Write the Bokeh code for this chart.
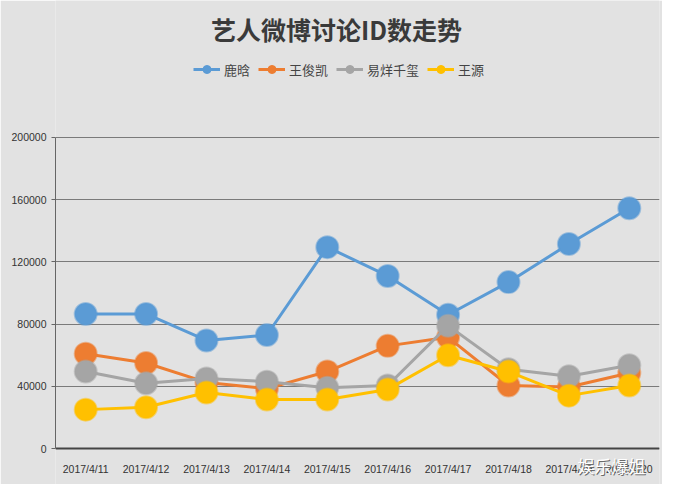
from bokeh.plotting import figure
from bokeh.models import (FactorRange, Range1d, FixedTicker, Legend, LegendItem,
                          BasicTickFormatter, Label)
from bokeh.embed import file_html
from bokeh.resources import INLINE

# ---- data ----
dates = ["2017/4/11", "2017/4/12", "2017/4/13", "2017/4/14", "2017/4/15",
         "2017/4/16", "2017/4/17", "2017/4/18", "2017/4/19", "2017/4/20"]
series_names = ["鹿晗", "王俊凯", "易烊千玺", "王源"]
luhan = [86500, 86500, 69500, 73000, 129500, 111000, 86000, 107000, 131500, 154500]
wangjunkai = [61000, 55000, 42500, 38500, 49500, 66000, 71500, 40500, 39500, 48500]
yiyangqianxi = [49500, 42000, 45000, 43000, 39000, 40500, 79000, 51000, 46500, 53500]
wangyuan = [25000, 26500, 36000, 31500, 31500, 38000, 60000, 49500, 34000, 40500]
y_ticks = [0, 40000, 80000, 120000, 160000, 200000]
title_text = "艺人微博讨论ID数走势"
watermark = "娱乐爆姐"

colors = ["#5B9BD5", "#ED7D31", "#A5A5A5", "#FFC000"]
series = [luhan, wangjunkai, yiyangqianxi, wangyuan]

CJK = "Noto Sans CJK SC"
BG = "#e2e2e2"
# view range: room below the axis for tick labels, above for title and legend
Y_BOTTOM, Y_TOP = -23150, 288100

p = figure(width=662, height=484, x_range=FactorRange(*dates),
           y_range=Range1d(Y_BOTTOM, Y_TOP), output_backend="svg",
           toolbar_location=None,
           min_border_left=55, min_border_right=3, min_border_bottom=0,
           min_border_top=0)
p.background_fill_color = BG
p.border_fill_color = BG
p.outline_line_color = None

title = Label(x=281, y=456, x_units="screen", y_units="screen", text=title_text,
              text_font=CJK, text_font_size="25px", text_font_style="bold",
              text_color="#3a3a3a", text_align="center", text_baseline="middle")
p.add_layout(title)

items = []
for name, vals, c in zip(series_names, series, colors):
    key_dot = p.scatter(dates, vals, size=7, fill_color=c, line_color=c)
    r1 = p.line(dates, vals, line_color=c, line_width=3)
    p.scatter(dates, vals, size=22, fill_color=c, line_color=c,
              line_alpha=0.5, line_width=2)
    items.append(LegendItem(label=name, renderers=[r1, key_dot]))

legend = Legend(items=items, orientation="horizontal", location=(138, 405))
legend.background_fill_alpha = 0
legend.border_line_color = None
legend.padding = 0
legend.margin = 0
legend.label_text_font = CJK
legend.label_text_font_size = "13px"
legend.label_text_color = "#444444"
legend.glyph_width = 27
legend.label_standoff = 4
legend.spacing = 8
p.add_layout(legend)

# axes
p.yaxis.ticker = FixedTicker(ticks=y_ticks)
p.yaxis.bounds = (0, 200000)
p.yaxis.formatter = BasicTickFormatter(use_scientific=False)
p.yaxis.axis_line_color = "#666666"
p.yaxis.major_tick_line_color = "#666666"
p.yaxis.major_tick_out = 4
p.yaxis.major_tick_in = 0
p.yaxis.minor_tick_line_color = None
p.yaxis.major_label_standoff = 5
p.yaxis.major_label_text_font = "Liberation Sans"
p.yaxis.major_label_text_font_size = "10.5px"
p.yaxis.major_label_text_color = "#333333"

p.xaxis.fixed_location = 0
p.xaxis.axis_line_color = "#444444"
p.xaxis.axis_line_width = 2
p.xaxis.major_tick_line_color = None
p.xaxis.minor_tick_line_color = None
p.xaxis.major_label_standoff = 8
p.xaxis.major_label_text_font = "Liberation Sans"
p.xaxis.major_label_text_font_size = "10.5px"
p.xaxis.major_label_text_color = "#333333"

p.xgrid.grid_line_color = None
p.ygrid.ticker = FixedTicker(ticks=y_ticks)
p.ygrid.grid_line_color = "#7a7a7a"
p.ygrid.grid_line_width = 1

wm_shadow = Label(x=523, y=18, x_units="screen", y_units="screen", text=watermark,
                  text_color="#6a6a6a", text_font=CJK, text_font_size="17px",
                  text_baseline="middle")
wm = Label(x=522, y=19, x_units="screen", y_units="screen", text=watermark,
           text_color="white", text_font=CJK, text_font_size="17px",
           text_baseline="middle")
p.add_layout(wm_shadow)
p.add_layout(wm)

open("out.html", "w").write(file_html(p, INLINE))
